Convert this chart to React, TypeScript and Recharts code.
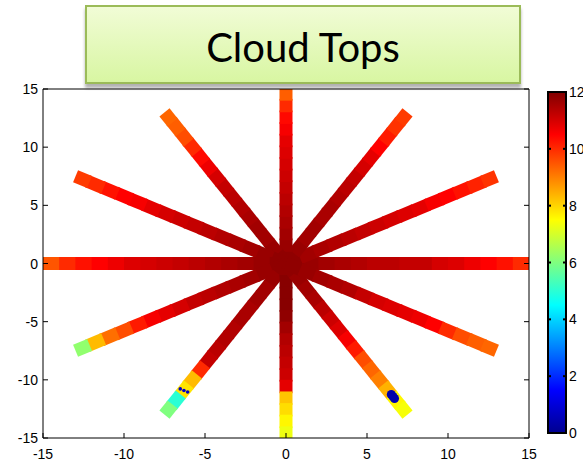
import React from "react";
import { ScatterChart, Scatter, XAxis, YAxis, ReferenceLine } from "recharts";

// ray directions (degrees) and radial stations along each ray
const ANGLES = [0, 30, 60, 90, 120, 150, 180, 210, 240, 270, 300, 330];
const RADII = [0, 1, 2, 3, 4, 5, 6, 7, 8, 9, 10, 11, 12, 13, 14, 15];

// cloud top value for each 1-unit piece of a ray, centre outwards
const ray000 = [11.8, 11.7, 11.6, 11.5, 11.4, 11.3, 11.3, 11.2, 11.2, 11.0, 10.9, 10.7, 10.5, 10.3, 10.0];
const ray030 = [11.8, 11.6, 11.5, 11.4, 11.3, 11.2, 11.1, 11.0, 10.9, 10.8, 10.6, 10.5, 10.3, 10.1, 9.9];
const ray060 = [11.8, 11.7, 11.6, 11.6, 11.5, 11.5, 11.4, 11.3, 11.2, 11.0, 10.8, 10.5, 10.2, 9.9, 9.8];
const ray090 = [11.8, 11.7, 11.6, 11.5, 11.4, 11.3, 11.2, 11.1, 11.0, 10.9, 10.8, 10.6, 10.4, 10.0, 9.4];
const ray120 = [11.8, 11.7, 11.6, 11.6, 11.5, 11.4, 11.3, 11.2, 11.0, 10.7, 10.4, 10.0, 9.6, 9.4, 9.3];
const ray150 = [11.8, 11.7, 11.6, 11.5, 11.4, 11.3, 11.2, 11.1, 11.0, 10.8, 10.6, 10.5, 10.3, 10.0, 9.8];
const ray180 = [11.8, 11.7, 11.6, 11.5, 11.4, 11.3, 11.2, 11.1, 11.0, 10.9, 10.7, 10.5, 10.3, 10.0, 9.5];
const ray210 = [11.8, 11.7, 11.6, 11.5, 11.4, 11.3, 11.2, 11.0, 10.8, 10.6, 10.2, 9.6, 9.2, 8.3, 6.2];
const ray240 = [11.8, 11.7, 11.6, 11.6, 11.5, 11.5, 11.4, 11.4, 11.3, 11.2, 10.0, 8.3, 7.8, 5.0, 6.0];
const ray270 = [11.8, 11.9, 11.9, 11.9, 11.8, 11.6, 11.4, 11.3, 11.2, 11.1, 10.8, 8.2, 7.9, 7.6, 7.3];
const ray300 = [11.8, 11.7, 11.6, 11.5, 11.3, 11.1, 10.9, 10.6, 10.2, 9.6, 9.3, 9.0, 8.4, 7.6, 7.4];
const ray330 = [11.8, 11.7, 11.6, 11.5, 11.4, 11.2, 11.0, 10.9, 10.8, 10.7, 10.5, 10.0, 9.6, 9.4, 9.3];
const RAYS = [ray000, ray030, ray060, ray090, ray120, ray150, ray180, ray210, ray240, ray270, ray300, ray330];

// low cloud blob on the 300 degree ray
const blobAngles = [300, 300, 300];
const blobRadii = [13.0, 13.4, 13.2];
const blobValues = [0.5, 0.6, 0.5];

// thin low cloud marks on the 240 degree ray
const markAngles = [238.8, 241.2, 240];
const markRadii = [12.6, 12.6, 12.6];
const markValues = [0.8, 0.8, 0.9];

const AXIS_TICKS = [-15, -10, -5, 0, 5, 10, 15];
const BAR_TICKS = [0, 2, 4, 6, 8, 10, 12];

const FONT = "Liberation Sans, Arial, sans-serif";

const jet = (v: number) => {
  const t = Math.max(0, Math.min(1, v / 12));
  const c = (d: number) => Math.round(255 * Math.max(0, Math.min(1, 1.5 - Math.abs(4 * t - d))));
  return `rgb(${c(3)},${c(2)},${c(1)})`;
};

const polar = (angle: number, r: number) => {
  const a = (angle * Math.PI) / 180;
  return { x: r * Math.cos(a), y: r * Math.sin(a) };
};

const blob = blobAngles.map((a, i) => ({ ...polar(a, blobRadii[i]), v: blobValues[i] }));
const marks = markAngles.map((a, i) => ({ ...polar(a, markRadii[i]), v: markValues[i] }));

const BottomTick = (props: any) => {
  const { x, y, payload } = props;
  return (
    <g>
      <line x1={x} y1={y} x2={x} y2={y - 5} stroke="#000" />
      <text x={x} y={y + 21} textAnchor="middle" fontSize={14} fontFamily={FONT} fill="#000">
        {payload.value}
      </text>
    </g>
  );
};

const LeftTick = (props: any) => {
  const { x, y, payload } = props;
  return (
    <g>
      <line x1={x} y1={y} x2={x + 5} y2={y} stroke="#000" />
      <text x={x - 5} y={y + 5} textAnchor="end" fontSize={14} fontFamily={FONT} fill="#000">
        {payload.value}
      </text>
    </g>
  );
};

const TopTick = (props: any) => {
  const { x, y } = props;
  return <line x1={x} y1={y} x2={x} y2={y + 5} stroke="#000" />;
};

const RightTick = (props: any) => {
  const { x, y } = props;
  return <line x1={x} y1={y} x2={x - 5} y2={y} stroke="#000" />;
};

const BlobDot = (props: any) => {
  const { cx, cy, payload } = props;
  return <circle cx={cx} cy={cy} r={4.5} fill={jet(payload.v)} />;
};

const MarkDot = (props: any) => {
  const { cx, cy, payload } = props;
  return <circle cx={cx} cy={cy} r={1.8} fill={jet(payload.v)} />;
};

const ColorBar = () => {
  const x = 548;
  const top = 92;
  const h = 341;
  const w = 18;
  return (
    <svg width={583} height={466} style={{ position: "absolute", left: 0, top: 0, pointerEvents: "none" }}>
      <defs>
        <linearGradient id="jetbar" x1="0" y1="1" x2="0" y2="0">
          <stop offset="0" stopColor="#00008f" />
          <stop offset="0.125" stopColor="#0000ff" />
          <stop offset="0.375" stopColor="#00ffff" />
          <stop offset="0.625" stopColor="#ffff00" />
          <stop offset="0.875" stopColor="#ff0000" />
          <stop offset="1" stopColor="#800000" />
        </linearGradient>
      </defs>
      <rect x={x} y={top} width={w} height={h} fill="url(#jetbar)" stroke="#000" strokeWidth={2} />
      {BAR_TICKS.map((t) => {
        const ty = top + h - (t / 12) * h;
        return (
          <g key={t}>
            <line x1={x} y1={ty} x2={x + 3} y2={ty} stroke="#000" strokeWidth={2} />
            <line x1={x + w - 3} y1={ty} x2={x + w} y2={ty} stroke="#000" strokeWidth={2} />
            <text x={x + w + 3} y={ty + 5} fontSize={14} fontFamily={FONT} fill="#000">
              {t}
            </text>
          </g>
        );
      })}
    </svg>
  );
};

export default function App() {
  return (
    <div style={{ position: "absolute", left: 0, top: 0, width: 583, height: 466, background: "#fff" }}>
      <ScatterChart width={583} height={466} margin={{ top: 84, right: 49, bottom: 0, left: 0 }}>
        <XAxis
          type="number"
          dataKey="x"
          domain={[-15, 15]}
          ticks={AXIS_TICKS}
          interval={0}
          height={28}
          tickSize={0}
          tickMargin={0}
          tick={BottomTick}
          axisLine={{ stroke: "#000" }}
          allowDataOverflow
        />
        <XAxis
          xAxisId="top"
          orientation="top"
          type="number"
          domain={[-15, 15]}
          ticks={AXIS_TICKS}
          interval={0}
          height={5}
          tickSize={0}
          tickMargin={0}
          tick={TopTick}
          axisLine={{ stroke: "#000" }}
          allowDataOverflow
        />
        <YAxis
          type="number"
          dataKey="y"
          domain={[-15, 15]}
          ticks={AXIS_TICKS}
          interval={0}
          width={43}
          tickSize={0}
          tickMargin={0}
          tick={LeftTick}
          axisLine={{ stroke: "#000" }}
          allowDataOverflow
        />
        <YAxis
          yAxisId="right"
          orientation="right"
          type="number"
          domain={[-15, 15]}
          ticks={AXIS_TICKS}
          interval={0}
          width={5}
          tickSize={0}
          tickMargin={0}
          tick={RightTick}
          axisLine={{ stroke: "#000" }}
          allowDataOverflow
        />
        {RAYS.map((vals, ri) =>
          vals.map((v, i) => {
            const r0 = RADII[i];
            const r1 = i < vals.length - 1 ? RADII[i + 1] + 0.15 : RADII[i + 1];
            const p0 = polar(ANGLES[ri], r0);
            const p1 = polar(ANGLES[ri], r1);
            return (
              <ReferenceLine
                key={`${ri}-${i}`}
                segment={[p0, p1]}
                stroke={jet(v)}
                strokeWidth={13}
                ifOverflow="visible"
              />
            );
          })
        )}
        <Scatter data={blob} shape={BlobDot} isAnimationActive={false} />
        <Scatter data={marks} shape={MarkDot} isAnimationActive={false} />
      </ScatterChart>
      <ColorBar />
      <div
        style={{
          position: "absolute",
          left: 85,
          top: 5,
          width: 436,
          height: 79,
          border: "2px solid #9bbb59",
          background: "linear-gradient(#f1fcd6, #d8f6a2)",
          boxShadow: "0 4px 3px rgba(0,0,0,0.3)",
          display: "flex",
          alignItems: "center",
          justifyContent: "center",
          fontFamily: "Lato, 'Open Sans', sans-serif",
          fontSize: 40,
          color: "#000",
          lineHeight: 1,
          paddingTop: 4,
          boxSizing: "border-box",
        }}
      >
        Cloud Tops
      </div>
    </div>
  );
}
